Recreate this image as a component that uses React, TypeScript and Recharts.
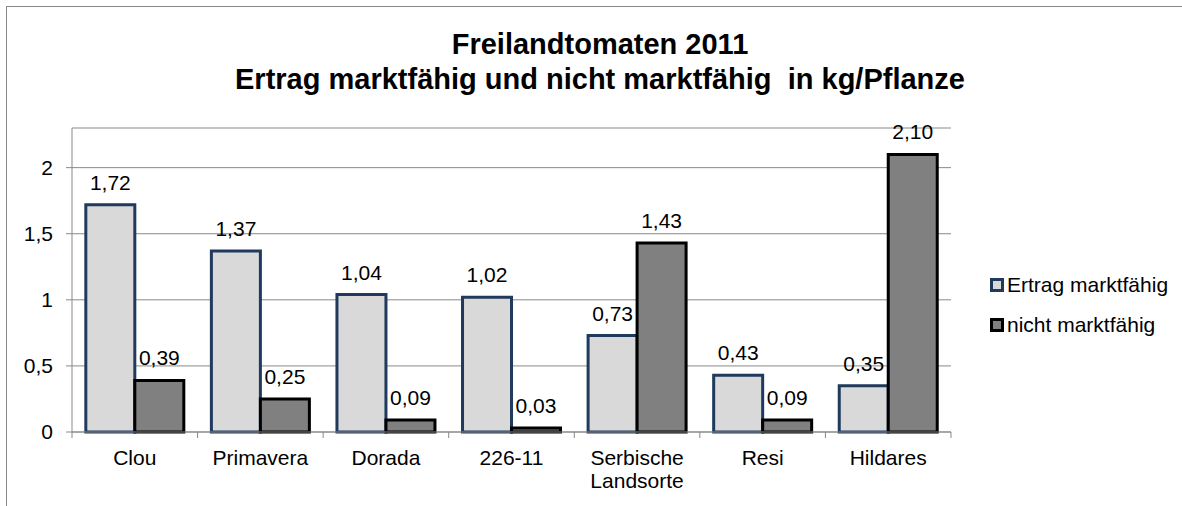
import React from 'react';
import { BarChart, Bar, XAxis, YAxis, CartesianGrid, LabelList, Legend } from 'recharts';

const categories = ['Clou', 'Primavera', 'Dorada', '226-11', 'Serbische\nLandsorte', 'Resi', 'Hildares'];
const marktfaehig = [1.72, 1.37, 1.04, 1.02, 0.73, 0.43, 0.35];
const nichtMarktfaehig = [0.39, 0.25, 0.09, 0.03, 1.43, 0.09, 2.1];
const yTicks = [0, 0.5, 1, 1.5, 2];

const data = categories.map((name, i) => ({
    name,
    markt: marktfaehig[i],
    nicht: nichtMarktfaehig[i]
}));

const W = 1182;
const H = 506;
const MARGIN = { top: 128, right: 231, bottom: 0, left: 0 };
const X_AXIS_H = 74;
const Y_AXIS_W = 72;
const PLOT_W = W - MARGIN.left - MARGIN.right - Y_AXIS_W;
const BAND = PLOT_W / categories.length;
const FONT = '"Liberation Sans", Arial, sans-serif';
const AXIS_GRAY = '#898989';
const TEXT_SIZE = 21;

const fmt = (v: any) => Number(v).toFixed(2).replace('.', ',');

// Excel-like category axis: tick marks sit between categories
const CategoryTick = (props: any) => {
    const { x, y, payload, index } = props;
    const lines = String(payload.value).split('\n');
    const left = x - BAND / 2;
    return (
        <g>
            <line x1={left} x2={left} y1={y} y2={y + 6} stroke={AXIS_GRAY} />
            {index === categories.length - 1 && (
                <line x1={x + BAND / 2} x2={x + BAND / 2} y1={y} y2={y + 6} stroke={AXIS_GRAY} />
            )}
            <text textAnchor="middle" fontSize={TEXT_SIZE} fill="#000" fontFamily={FONT}>
                {lines.map((l, i) => (
                    <tspan key={i} x={x} y={y + 33 + i * 23}>{l}</tspan>
                ))}
            </text>
        </g>
    );
};

const legendItems = [
    { label: 'Ertrag marktfähig', fill: '#d9d9d9', stroke: '#1f3a5c' },
    { label: 'nicht marktfähig', fill: '#808080', stroke: '#000000' }
];

const LegendContent = () => (
    <div style={{ fontFamily: FONT, fontSize: TEXT_SIZE, color: '#000' }}>
        {legendItems.map((it) => (
            <div key={it.label} style={{ display: 'flex', alignItems: 'center', height: 40 }}>
                <span
                    style={{
                        display: 'inline-block',
                        width: 14,
                        height: 14,
                        boxSizing: 'border-box',
                        background: it.fill,
                        border: `3px solid ${it.stroke}`,
                        marginRight: 3
                    }}
                />
                <span>{it.label}</span>
            </div>
        ))}
    </div>
);

export default function App() {
    return (
        <div style={{ position: 'absolute', left: 0, top: 0, width: W, height: H, overflow: 'hidden', background: '#fff', fontFamily: FONT }}>
            <div
                style={{
                    position: 'absolute',
                    left: 6,
                    top: 6,
                    width: W + 100,
                    height: H + 100,
                    border: `1px solid ${AXIS_GRAY}`
                }}
            />
            <div style={{ position: 'absolute', left: 0, width: 1200, top: 27, textAlign: 'center', fontWeight: 'bold', fontSize: 29, lineHeight: '35px' }}>
                Freilandtomaten 2011
                <br />
                Ertrag marktfähig und nicht marktfähig&nbsp; in kg/Pflanze
            </div>
            <div style={{ position: 'absolute', left: 0, top: 0 }}>
                <BarChart width={W} height={H} data={data} margin={MARGIN} barCategoryGap="11%" barGap={0}>
                    <CartesianGrid vertical={false} stroke={AXIS_GRAY} />
                    <XAxis
                        dataKey="name"
                        height={X_AXIS_H}
                        interval={0}
                        tickLine={false}
                        tickSize={0}
                        tickMargin={0}
                        axisLine={{ stroke: AXIS_GRAY }}
                        tick={<CategoryTick />}
                    />
                    <YAxis
                        width={Y_AXIS_W}
                        domain={[0, 2.3]}
                        ticks={yTicks}
                        interval={0}
                        tickFormatter={(v) => String(v).replace('.', ',')}
                        tickSize={6}
                        tickMargin={13}
                        tickLine={{ stroke: AXIS_GRAY }}
                        axisLine={{ stroke: AXIS_GRAY }}
                        tick={{ fill: '#000', fontSize: TEXT_SIZE, fontFamily: FONT }}
                    />
                    <Legend
                        layout="horizontal"
                        verticalAlign="middle"
                        align="center"
                        wrapperStyle={{ left: 990, top: 265, width: 190 }}
                        content={<LegendContent />}
                    />
                    <Bar dataKey="markt" name="Ertrag marktfähig" fill="#d9d9d9" stroke="#1f3a5c" strokeWidth={3} isAnimationActive={false}>
                        <LabelList dataKey="markt" position="top" offset={15} formatter={fmt} fill="#000" fontSize={TEXT_SIZE} fontFamily={FONT} />
                    </Bar>
                    <Bar dataKey="nicht" name="nicht marktfähig" fill="#808080" stroke="#000000" strokeWidth={3} isAnimationActive={false}>
                        <LabelList dataKey="nicht" position="top" offset={15} formatter={fmt} fill="#000" fontSize={TEXT_SIZE} fontFamily={FONT} />
                    </Bar>
                </BarChart>
            </div>
        </div>
    );
}
